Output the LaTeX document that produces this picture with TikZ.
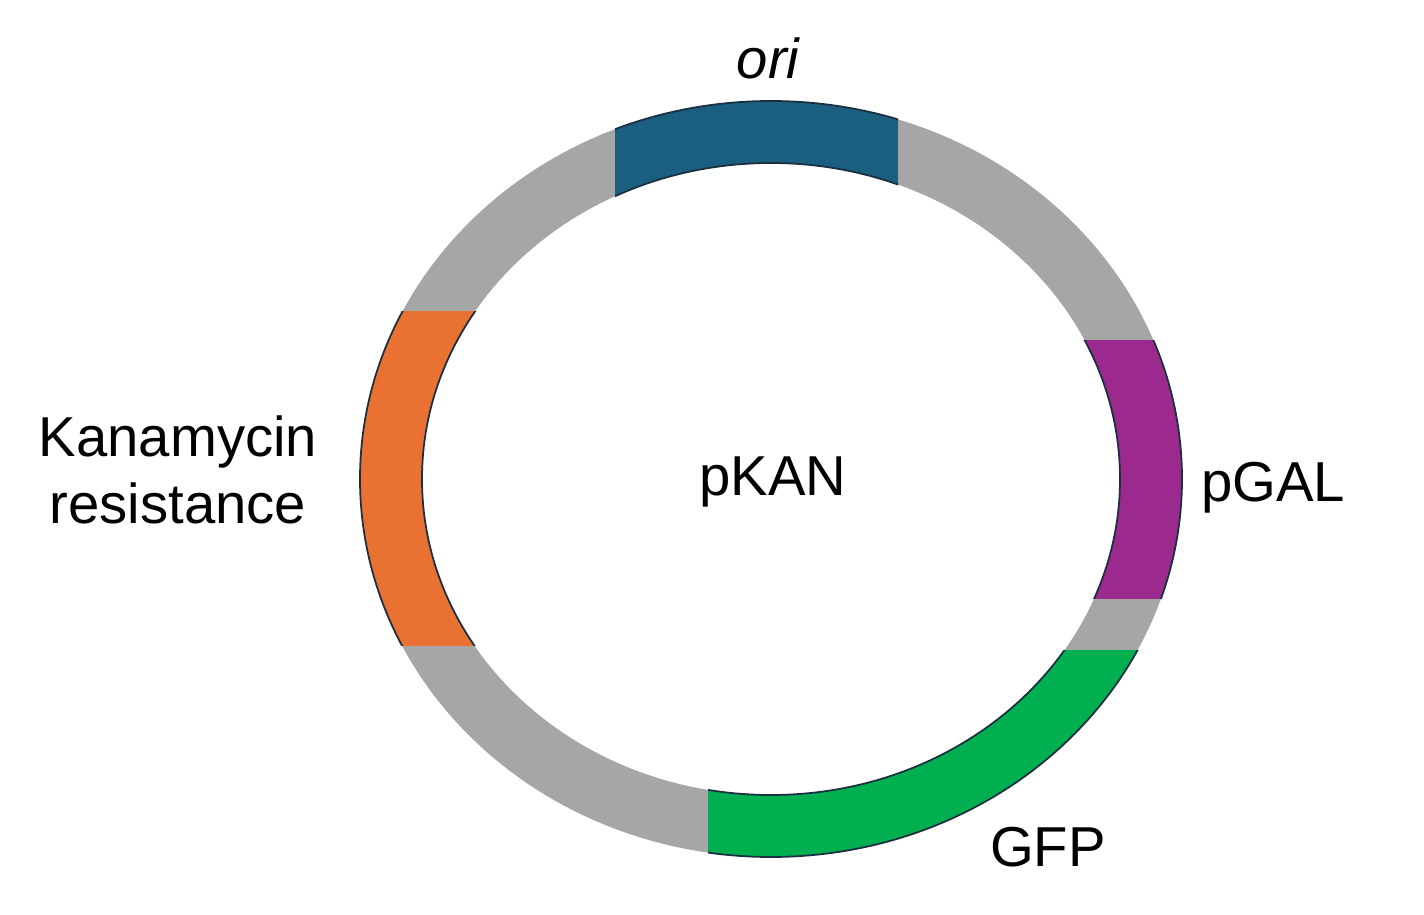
\documentclass[tikz,border=0pt]{standalone}
\usepackage{fontspec}
\setmainfont{Liberation Sans}
\definecolor{ringgrey}{HTML}{A6A6A6}
\definecolor{oriblue}{HTML}{1A5F80}
\definecolor{kanorange}{HTML}{E97132}
\definecolor{galpurple}{HTML}{9C2A8E}
\definecolor{gfpgreen}{HTML}{00B050}
\definecolor{edge}{HTML}{1A3040}
\begin{document}
\begin{tikzpicture}[x=0.01cm,y=-0.01cm,
  lbl/.style={font=\fontsize{16}{19}\selectfont,align=center},
  ring/.style={even odd rule,draw=edge,line width=0.5pt}]
\useasboundingbox (0,0) rectangle (1424,915);
\def\ringpath{(771,479) ellipse [x radius=411,y radius=378] (771,479) ellipse [x radius=349,y radius=316]}
\fill[ringgrey,even odd rule] \ringpath;
\begin{scope}\clip (615,0) rectangle (898,320);
  \fill[oriblue,ring] \ringpath;\end{scope}
\begin{scope}\clip (1000,340) rectangle (1424,598);
  \fill[galpurple,ring] \ringpath;\end{scope}
\begin{scope}\clip (0,311) rectangle (600,645);
  \fill[kanorange,ring] \ringpath;\end{scope}
\begin{scope}\clip (708,650) rectangle (1424,915);
  \fill[gfpgreen,ring] \ringpath;\end{scope}
\node[lbl] (ori) at (768,58) {\itshape ori};
\node[lbl] (kan) at (178,470) {Kanamycin\\resistance};
\node[lbl] (pkan) at (773,482) {pKAN};
\node[lbl] (pgal) at (1273,488) {pGAL};
\node[lbl] (gfp) at (1048,847) {GFP};
\end{tikzpicture}
\end{document}
